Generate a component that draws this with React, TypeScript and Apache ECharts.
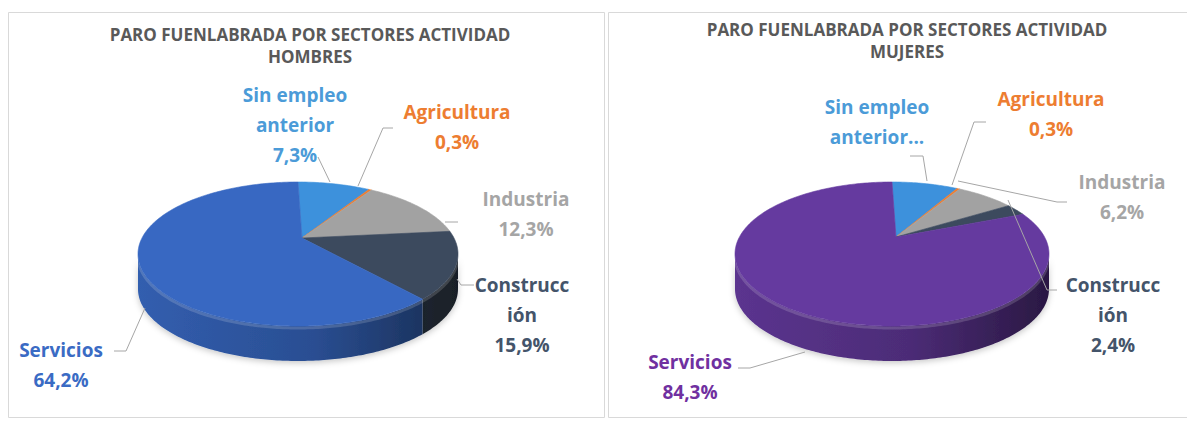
import React, { useEffect, useRef } from "react";
import * as echarts from "echarts";

// ---------- data ----------
const categories = ["Sin empleo anterior", "Agricultura", "Industria", "Construcción", "Servicios"];
const labelNames = ["Sin empleo\nanterior", "Agricultura", "Industria", "Construcc\nión", "Servicios"];
const hombresValues = [7.3, 0.3, 12.3, 15.9, 64.2];
const mujeresValues = [6.8, 0.3, 6.2, 2.4, 84.3];
// the Sin empleo label on the women's chart is cut off in the source ("anterior...")
const mujeresLabelNames = ["Sin empleo\nanterior...", "Agricultura", "Industria", "Construcc\nión", "Servicios"];
const mujeresShowValue = [false, true, true, true, true];
const hombresShowValue = [true, true, true, true, true];
const titleLine1 = "PARO FUENLABRADA POR SECTORES ACTIVIDAD";
const hombresSubtitle = "HOMBRES";
const mujeresSubtitle = "MUJERES";

// ---------- styles ----------
const hombresColors = ["#3d91dc", "#ed7d31", "#a2a2a2", "#3c4a5e", "#3868c2"];
const mujeresColors = ["#3d91dc", "#ed7d31", "#a2a2a2", "#3c4a5e", "#653a9f"];
const hombresLabelColors = ["#4b9bd8", "#ed7d31", "#a5a5a5", "#44546a", "#3a6bc4"];
const mujeresLabelColors = ["#4b9bd8", "#ed7d31", "#a5a5a5", "#44546a", "#7030a0"];

// ---------- layout ----------
const hombresLayout = {
  cx: 298, cy: 254, rx: 160, ry: 72, depth: 35, apexDx: 4, apexDy: -16,
  labels: [[295, 125], [457, 127], [526, 214], [522, 315], [61, 365]],
  leaders: [
    [[318, 157], [330, 182]],
    [[393, 128], [383, 128], [358, 186]],
    [[445, 222], [458, 222]],
    [[457, 279], [461, 285], [474, 285]],
    [[145, 308], [126, 351], [114, 351]],
  ],
};
const mujeresLayout = {
  cx: 892, cy: 254, rx: 157, ry: 72, depth: 35, apexDx: 4, apexDy: -17,
  labels: [[877, 122], [1051, 114], [1122, 197], [1113, 315], [690, 377]],
  leaders: [
    [[910, 156], [923, 156], [927, 181]],
    [[986, 122], [974, 122], [952, 185]],
    [[958, 181], [1057, 202], [1067, 202]],
    [[1008, 200], [1047, 290], [1057, 290]],
    [[805, 352], [750, 368], [738, 368]],
  ],
};

function shade(hex: string, f: number) {
  const n = parseInt(hex.slice(1), 16);
  const r = Math.min(255, Math.round(((n >> 16) & 255) * f));
  const g = Math.min(255, Math.round(((n >> 8) & 255) * f));
  const b = Math.min(255, Math.round((n & 255) * f));
  return `rgb(${r},${g},${b})`;
}

function fmt(v: number) {
  return v.toFixed(1).replace(".", ",") + "%";
}

function makePieSeries(values: number[], colors: string[], labelColors: string[], names: string[], showValue: boolean[], L: any) {
  const total = values.reduce((a, b) => a + b, 0);
  const starts: number[] = [];
  let acc = 0;
  values.forEach((v) => { starts.push(acc); acc += v; });
  const pt = (th: number, dy = 0) => [L.cx + L.rx * Math.sin(th), L.cy - L.ry * Math.cos(th) + dy];
  return {
    type: "custom",
    coordinateSystem: "none",
    silent: true,
    data: values.map((v, i) => ({ name: categories[i], value: [v, starts[i]] })),
    renderItem: (params: any, api: any) => {
      const i = params.dataIndex;
      const v = api.value(0);
      const s = api.value(1);
      const a1 = (s / total) * Math.PI * 2;
      const a2 = ((s + v) / total) * Math.PI * 2;
      const c = colors[i];
      const children: any[] = [];
      // top face
      const n = Math.max(2, Math.ceil((a2 - a1) / (Math.PI / 180)));
      const top: number[][] = [[L.cx + L.apexDx, L.cy + L.apexDy]];
      for (let k = 0; k <= n; k++) top.push(pt(a1 + ((a2 - a1) * k) / n));
      children.push({
        type: "polygon",
        shape: { points: top },
        style: { fill: c, stroke: c, lineWidth: 0.6 },
        z2: 10,
      });
      // visible side (front half)
      const f1 = Math.max(a1, Math.PI / 2);
      const f2 = Math.min(a2, (3 * Math.PI) / 2);
      if (f2 > f1) {
        const m = Math.max(2, Math.ceil((f2 - f1) / (Math.PI / 180)));
        const upper: number[][] = [];
        const lower: number[][] = [];
        for (let k = 0; k <= m; k++) {
          const th = f1 + ((f2 - f1) * k) / m;
          upper.push(pt(th));
          lower.push(pt(th, L.depth));
        }
        const side = upper.concat(lower.slice().reverse());
        children.push({
          type: "polygon",
          shape: { points: side },
          style: {
            fill: new echarts.graphic.LinearGradient(L.cx - L.rx, 0, L.cx + L.rx, 0, [
              { offset: 0, color: shade(c, 0.9) },
              { offset: 0.55, color: shade(c, 0.75) },
              { offset: 1, color: shade(c, 0.42) },
            ], true),
            shadowBlur: 6,
            shadowColor: "rgba(0,0,0,0.22)",
            shadowOffsetY: 2,
          },
          z2: 1,
        });
        children.push({
          type: "polyline",
          shape: { points: upper.map((p) => [p[0], p[1] + 2]) },
          style: { stroke: "rgba(255,255,255,0.16)", lineWidth: 3, fill: null },
          z2: 2,
        });
      }
      // label
      const [lx, ly] = L.labels[i];
      const text = showValue[i] ? `${names[i]}\n${fmt(v)}` : names[i];
      children.push({
        type: "text",
        x: lx,
        y: ly,
        style: {
          text,
          fill: labelColors[i],
          fontFamily: "Open Sans",
          fontWeight: "bold",
          fontSize: 19,
          lineHeight: 30,
          align: "center",
          verticalAlign: "middle",
        },
        z2: 20,
      });
      children.push({
        type: "polyline",
        shape: { points: L.leaders[i] },
        style: { stroke: "#a6a6a6", lineWidth: 1, fill: null },
        z2: 20,
      });
      return { type: "group", children };
    },
  };
}

export default function App() {
  const ref = useRef<HTMLDivElement>(null);
  useEffect(() => {
    if (!ref.current) return;
    const chart = echarts.init(ref.current, null, { renderer: "svg" });
    const titleStyle = {
      fontFamily: "Open Sans",
      fontWeight: "bold" as const,
      fontSize: 17,
      color: "#595959",
      lineHeight: 22,
    };
    chart.setOption({
      animation: false,
      backgroundColor: "#ffffff",
      title: [
        { text: `${titleLine1}\n${hombresSubtitle}`, left: 310, top: 23, padding: 0, textAlign: "center", textStyle: titleStyle },
        { text: `${titleLine1}\n${mujeresSubtitle}`, left: 907, top: 18, padding: 0, textAlign: "center", textStyle: titleStyle },
      ],
      graphic: [
        { type: "rect", shape: { x: 8.5, y: 12.5, width: 596, height: 405 }, style: { fill: "none", stroke: "#d9d9d9", lineWidth: 1 }, z: -1 },
        { type: "rect", shape: { x: 608.5, y: 12.5, width: 590, height: 405 }, style: { fill: "none", stroke: "#d9d9d9", lineWidth: 1 }, z: -1 },
      ],
      series: [
        makePieSeries(hombresValues, hombresColors, hombresLabelColors, labelNames, hombresShowValue, hombresLayout),
        makePieSeries(mujeresValues, mujeresColors, mujeresLabelColors, mujeresLabelNames, mujeresShowValue, mujeresLayout),
      ],
    });
    return () => chart.dispose();
  }, []);
  return <div ref={ref} style={{ position: "fixed", left: 0, top: 0, width: 1187, height: 421 }} />;
}
